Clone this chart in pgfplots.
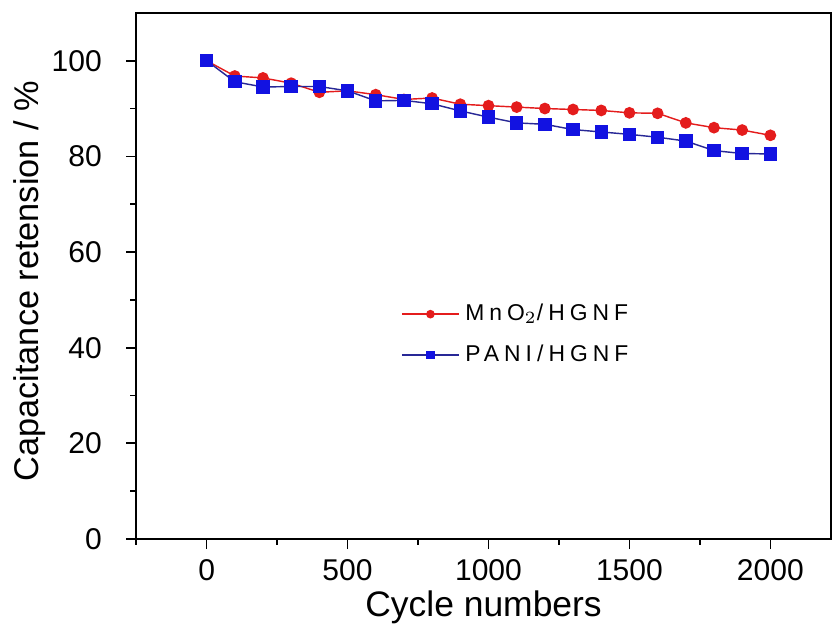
\documentclass[border=0pt]{standalone}
\usepackage{fontspec}
\setmainfont{Liberation Sans}
\usepackage{pgfplots}
\pgfplotsset{compat=1.18}
\definecolor{mred}{RGB}{228,28,28}
\definecolor{mblue}{RGB}{18,18,225}
\definecolor{lblue}{RGB}{40,40,150}
\begin{document}
\begin{tikzpicture}
\begin{axis}[
  scale only axis,
  width=243pt, height=184pt,
  xmin=-250, xmax=2215,
  ymin=0, ymax=110,
  xtick={0,500,1000,1500,2000},
  minor xtick={-250,250,750,1250,1750},
  ytick={0,20,40,60,80,100},
  minor ytick={10,30,50,70,90},
  tick align=outside,
  xtick pos=bottom, ytick pos=left,
  major tick length=3.5pt, minor tick length=2pt,
  every tick/.style={black, line width=0.6pt},
  axis line style={line width=0.7pt},
  /pgf/number format/assume math mode=true,
  /pgf/number format/1000 sep={},
  tick label style={font=\fontsize{10.5}{12}\selectfont},
  yticklabel style={xshift=-5pt},
  xlabel={Cycle numbers},
  ylabel={Capacitance retension / \%},
  every axis x label/.style={at={(axis description cs:0.5,-0.13)}, anchor=center,
    font=\fontsize{12.4}{14}\selectfont},
  every axis y label/.style={at={(axis description cs:-0.153,0.49)}, anchor=center, rotate=90,
    font=\fontsize{12}{14}\selectfont},
  legend style={draw=none, fill=none, font=\fontsize{8}{9}\selectfont\addfontfeature{LetterSpace=22},
    at={(axis cs:658,51.7)}, anchor=north west, row sep=3pt},
  legend cell align=left,
  legend image code/.code={\draw[mark repeat=2, mark phase=2, mark size=1.25pt]
    plot coordinates {(0cm,0cm) (0.35cm,0cm) (0.7cm,0cm)};},
]
\addplot[mred, line width=0.5pt, mark=*, mark size=1.8pt, mark options={fill=mred, draw=mred}] coordinates {
(0,100) (100,96.8) (200,96.4) (300,95.3) (400,93.4) (500,93.7) (600,92.9) (700,91.9)
(800,92.2) (900,90.9) (1000,90.6) (1100,90.3) (1200,90.0) (1300,89.8) (1400,89.6)
(1500,89.1) (1600,89.0) (1700,87.0) (1800,86.0) (1900,85.5) (2000,84.4)
};
\addlegendentry{MnO$_2$/HGNF}
\addplot[lblue, line width=0.5pt, mark=square*, mark size=2.1pt, mark options={fill=mblue, draw=mblue}] coordinates {
(0,100) (100,95.6) (200,94.5) (300,94.6) (400,94.6) (500,93.7) (600,91.6) (700,91.7)
(800,91.0) (900,89.5) (1000,88.2) (1100,87.0) (1200,86.7) (1300,85.6) (1400,85.1)
(1500,84.6) (1600,84.0) (1700,83.2) (1800,81.2) (1900,80.6) (2000,80.5)
};
\addlegendentry{PANI/HGNF}
\end{axis}
\path ([yshift=4.5pt]current axis.north) ([xshift=1.4pt]current axis.east);
\path ([xshift=-1.5pt]current bounding box.west) ([yshift=-1.5pt]current bounding box.south);
\end{tikzpicture}
\end{document}
